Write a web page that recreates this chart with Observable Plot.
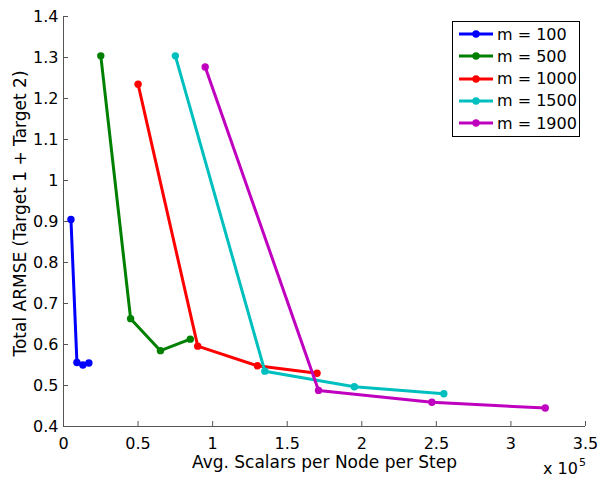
<!DOCTYPE html>
<html>
<head>
<meta charset="utf-8">
<script src="https://cdn.jsdelivr.net/npm/d3@7"></script>
<script src="https://cdn.jsdelivr.net/npm/@observablehq/plot@0.6"></script>
<style>
  html, body { margin: 0; padding: 0; background: #fff; }
  #wrap { position: relative; width: 600px; height: 479px; font-family: "DejaVu Sans", sans-serif; }
  #legend { position: absolute; left: 452px; top: 21px; width: 128px; height: 116px; box-sizing: border-box;
            border: 1px solid #000; background: #fff; padding-top: 1px; }
  .row { display: flex; align-items: center; height: 22.25px; font-size: 16px; color: #000; }
  .row svg { display: block; }
  #mult { position: absolute; left: 543px; top: 459px; font-size: 16px; color: #000; white-space: nowrap; }
  #mult sup { font-size: 11px; position: relative; top: -3px; vertical-align: top; margin-left: 1px; }
</style>
</head>
<body>
<div id="wrap">
  <div id="chart"></div>
  <div id="legend"></div>
  <div id="mult">x 10<sup>5</sup></div>
</div>
<script>
// Series names and colours
const seriesNames = ["m = 100", "m = 500", "m = 1000", "m = 1500", "m = 1900"];
const seriesColors = ["#0000ff", "#008000", "#ff0000", "#00bfbf", "#bf00bf"];

// Avg. scalars per node per step (in units of 10^5)
const x100  = [0.05, 0.09, 0.13, 0.17];
const x500  = [0.25, 0.45, 0.65, 0.85];
const x1000 = [0.50, 0.90, 1.30, 1.70];
const x1500 = [0.75, 1.35, 1.95, 2.55];
const x1900 = [0.95, 1.71, 2.47, 3.23];

// Total ARMSE (Target 1 + Target 2)
const y100  = [0.905, 0.556, 0.550, 0.555];
const y500  = [1.304, 0.663, 0.585, 0.613];
const y1000 = [1.235, 0.596, 0.548, 0.530];
const y1500 = [1.304, 0.535, 0.497, 0.480];
const y1900 = [1.277, 0.488, 0.459, 0.445];

// Axis ticks
const xTicks = [0, 0.5, 1, 1.5, 2, 2.5, 3, 3.5];
const yTicks = [0.4, 0.5, 0.6, 0.7, 0.8, 0.9, 1, 1.1, 1.2, 1.3, 1.4];
const xLabel = "Avg. Scalars per Node per Step";
const yLabel = "Total ARMSE (Target 1 + Target 2)";

const xs = [x100, x500, x1000, x1500, x1900];
const ys = [y100, y500, y1000, y1500, y1900];
const data = [];
seriesNames.forEach((name, i) => xs[i].forEach((x, j) => data.push({series: name, x, y: ys[i][j]})));

const fmt = d => String(+(+d).toFixed(1));
const axisColor = "#555";

const seriesMarks = seriesNames.flatMap(name => {
  const sub = data.filter(d => d.series === name);
  return [
    Plot.line(sub, {x: "x", y: "y", stroke: "series", strokeWidth: 3, strokeLinejoin: "round", strokeLinecap: "round"}),
    Plot.dot(sub, {x: "x", y: "y", fill: "series", r: 3.7, stroke: null})
  ];
});

const chart = Plot.plot({
  width: 600,
  height: 479,
  marginLeft: 63,
  marginRight: 15,
  marginTop: 16,
  marginBottom: 53,
  style: {fontFamily: "DejaVu Sans", fontSize: "16px", background: "#fff", color: "#000", overflow: "visible"},
  x: {domain: [0, 3.5]},
  y: {domain: [0.4, 1.4]},
  color: {domain: seriesNames, range: seriesColors},
  marks: [
    Plot.axisX(xTicks, {tickSize: 0, tickPadding: 11, tickFormat: fmt, label: null, fontSize: 16}),
    Plot.axisY(yTicks, {tickSize: 0, tickPadding: 5, tickFormat: fmt, label: null, fontSize: 16}),
    Plot.tickX(xTicks, {x: d => d, insetTop: 405, stroke: axisColor, strokeWidth: 1}),
    Plot.tickY(yTicks, {y: d => d, insetRight: 517, stroke: axisColor, strokeWidth: 1}),
    Plot.ruleX([0], {stroke: axisColor, strokeWidth: 1}),
    Plot.ruleY([0.4], {stroke: axisColor, strokeWidth: 1}),
    ...seriesMarks,
    Plot.text([xLabel], {text: d => d, frameAnchor: "bottom", dy: 41, lineAnchor: "bottom", fontSize: 17, fill: "#000"}),
    Plot.text([yLabel], {text: d => d, frameAnchor: "left", dx: -50, dy: -8, rotate: -90, textAnchor: "middle", lineAnchor: "top", fontSize: 17, fill: "#000"})
  ]
});
document.getElementById("chart").appendChild(chart);

// Legend
const legend = document.getElementById("legend");
seriesNames.forEach((name, i) => {
  const row = document.createElement("div");
  row.className = "row";
  row.innerHTML = `<svg width="44" height="12"><line x1="6" y1="6" x2="40" y2="6" stroke="${seriesColors[i]}" stroke-width="3"/><circle cx="23" cy="6" r="3.7" fill="${seriesColors[i]}"/></svg><span>${name}</span>`;
  legend.appendChild(row);
});
</script>
</body>
</html>
